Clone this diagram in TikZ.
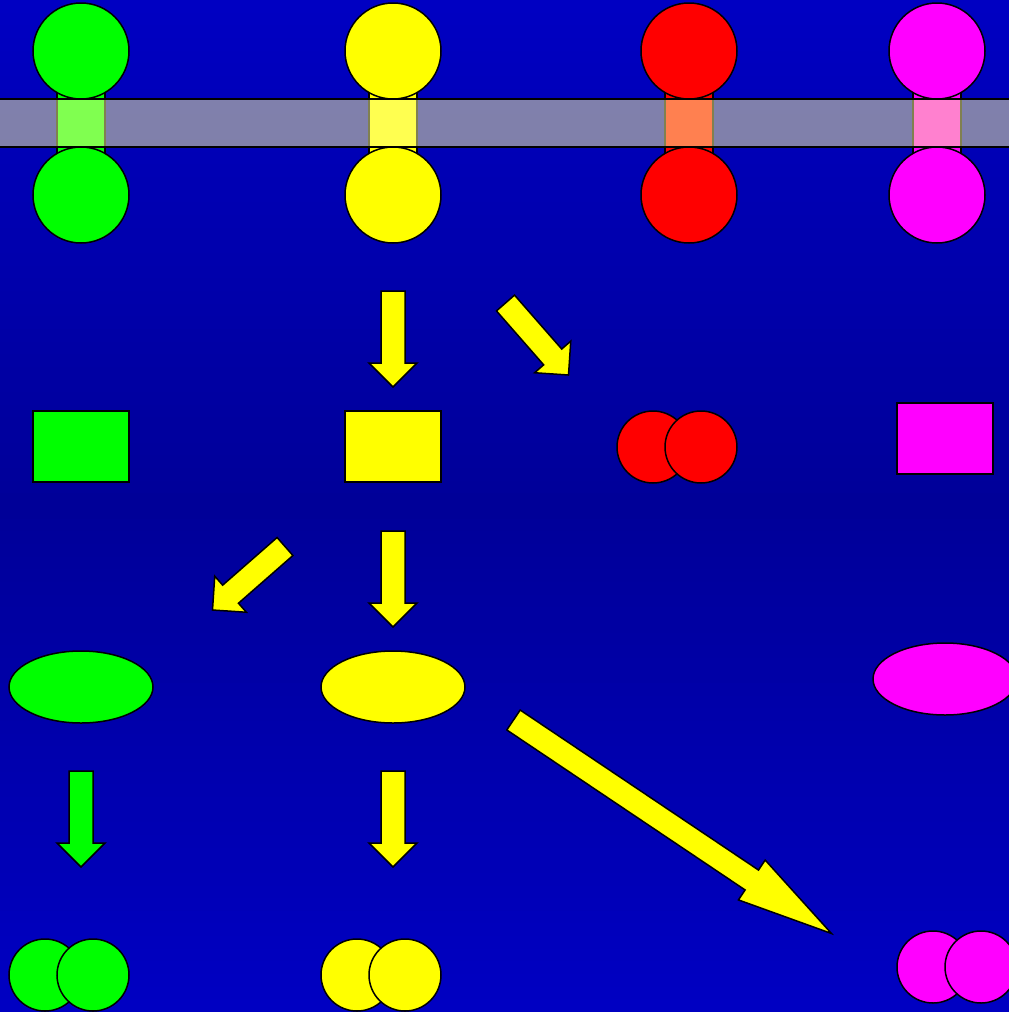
\documentclass[tikz,border=0pt]{standalone}
\usetikzlibrary{calc,shapes.geometric}
\definecolor{bgA}{RGB}{0,0,194}
\definecolor{bgB}{RGB}{0,0,152}
\definecolor{gr}{RGB}{0,255,0}
\definecolor{ye}{RGB}{255,255,0}
\definecolor{re}{RGB}{255,0,0}
\definecolor{ma}{RGB}{255,0,255}
\definecolor{bandc}{RGB}{255,255,160}
\tikzset{
 ol/.style={draw=black, line width=1.5pt},
 ball/.style={ol, circle, inner sep=0pt, minimum size=96pt},
 sball/.style={ol, circle, inner sep=0pt, minimum size=72pt},
 box/.style={ol, rectangle, inner sep=0pt, minimum width=96pt, minimum height=71pt},
 oval/.style={ol, ellipse, inner sep=0pt, minimum width=144pt, minimum height=72pt},
 chan/.style={ol, rectangle, inner sep=0pt, minimum width=48pt, minimum height=60pt},
 band/.style={fill=bandc, fill opacity=0.5},
 bandline/.style={draw=black, line width=2pt},
}
\newcommand\blockarrow[4]{%
 \coordinate (hb) at ($(#2)!#3!(#1)$);
 \draw[ol, fill=#4, line join=miter]
  ($(#1)!12pt!90:(#2)$) -- ($(hb)!12pt!90:(#2)$) -- ($(hb)!24pt!90:(#2)$)
  -- (#2) -- ($(hb)!24pt!-90:(#2)$) -- ($(hb)!12pt!-90:(#2)$)
  -- ($(#1)!12pt!-90:(#2)$) -- cycle;
}
\begin{document}
\begin{tikzpicture}[x=1pt,y=-1pt]
\useasboundingbox (0,0) rectangle (1009,1012);
\clip (0,0) rectangle (1009,1012);
% vertical gradient background: light - dark - light
\foreach \i in {0,...,79}{
  \pgfmathsetmacro{\pc}{abs(\i-39.5)/39.5*100}
  \pgfmathsetmacro{\ya}{\i*12.65}
  \pgfmathsetmacro{\yb}{\i*12.65+13.3}
  \fill[bgA!\pc!bgB] (0,\ya) rectangle (1009,\yb);
}

% channels
\node[chan, fill=gr] (cg) at (81,123) {};
\node[chan, fill=ye] (cy) at (393,123) {};
\node[chan, fill=re] (cr) at (689,123) {};
\node[chan, fill=ma] (cm) at (937,123) {};

% top and bottom balls
\node[ball, fill=gr] (g1) at (81,51) {};
\node[ball, fill=ye] (y1) at (393,51) {};
\node[ball, fill=re] (r1) at (689,51) {};
\node[ball, fill=ma] (m1) at (937,51) {};
\node[ball, fill=gr] (g2) at (81,195) {};
\node[ball, fill=ye] (y2) at (393,195) {};
\node[ball, fill=re] (r2) at (689,195) {};
\node[ball, fill=ma] (m2) at (937,195) {};

% membrane band
\fill[band] (0,99) rectangle (1009,147);
\coordinate (bl1) at (0,99); \coordinate (br1) at (1009,99);
\coordinate (bl2) at (0,147); \coordinate (br2) at (1009,147);
\draw[bandline] (bl1) -- (br1);
\draw[bandline] (bl2) -- (br2);

% row 2
\node[box, fill=gr] (g3) at (81,446.5) {};
\node[box, fill=ye] (y3) at (393,446.5) {};
\node[sball, fill=re] (r3a) at (653,447) {};
\node[sball, fill=re] (r3b) at (701,447) {};
\node[box, fill=ma] (m3) at (945,438.5) {};

% row 3
\node[oval, fill=gr] (g4) at (81,687) {};
\node[oval, fill=ye] (y4) at (393,687) {};
\node[oval, fill=ma] (m4) at (945,679) {};

% row 4
\node[sball, fill=gr] (g5a) at (45,975) {};
\node[sball, fill=gr] (g5b) at (93,975) {};
\node[sball, fill=ye] (y5a) at (357,975) {};
\node[sball, fill=ye] (y5b) at (405,975) {};
\node[sball, fill=ma] (m5a) at (933,967) {};
\node[sball, fill=ma] (m5b) at (981,967) {};

% arrows
\coordinate (a1t) at (393,291);   \coordinate (a1h) at (393,387);
\coordinate (a2t) at (505.5,303); \coordinate (a2h) at (568.5,375);
\coordinate (a3t) at (393,531);   \coordinate (a3h) at (393,627);
\coordinate (a4t) at (285,546.5); \coordinate (a4h) at (212.5,610);
\coordinate (a5t) at (81,771);    \coordinate (a5h) at (81,867);
\coordinate (a6t) at (393,771);   \coordinate (a6h) at (393,867);
\coordinate (a7t) at (513.5,720); \coordinate (a7h) at (831.5,933.5);
\blockarrow{a1t}{a1h}{24pt}{ye}
\blockarrow{a2t}{a2h}{24pt}{ye}
\blockarrow{a3t}{a3h}{24pt}{ye}
\blockarrow{a4t}{a4h}{24pt}{ye}
\blockarrow{a5t}{a5h}{24pt}{gr}
\blockarrow{a6t}{a6h}{24pt}{ye}
\blockarrow{a7t}{a7h}{96pt}{ye}
\end{tikzpicture}
\end{document}
